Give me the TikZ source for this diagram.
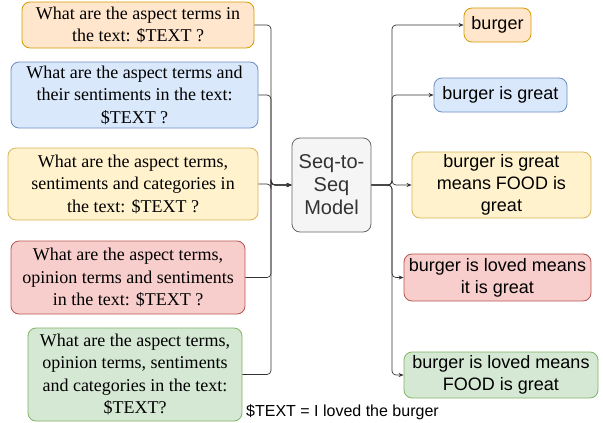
\documentclass[tikz,border=0pt]{standalone}
\usepackage{fontspec}
\setmainfont{Liberation Serif}
\setsansfont{Liberation Sans}
\usepackage{xcolor}
\usepackage{tikz}
\usetikzlibrary{arrows.meta}

\definecolor{orfill}{HTML}{FFE6CC}
\definecolor{orline}{HTML}{D79B00}
\definecolor{blfill}{HTML}{DAE8FC}
\definecolor{blline}{HTML}{6C8EBF}
\definecolor{yefill}{HTML}{FFF2CC}
\definecolor{yeline}{HTML}{D6B656}
\definecolor{refill}{HTML}{F8CECC}
\definecolor{reline}{HTML}{B85450}
\definecolor{grfill}{HTML}{D5E8D4}
\definecolor{grline}{HTML}{82B366}
\definecolor{mdfill}{HTML}{F5F5F5}
\definecolor{mdline}{HTML}{666666}
\definecolor{mdtext}{HTML}{333333}

\begin{document}
\begin{tikzpicture}[x=1pt,y=-1pt,
  box/.style={draw,rounded corners=8pt,line width=0.8pt,align=center,inner sep=0pt,
    font=\fontsize{18}{22.5}\selectfont},
  ans/.style={box,font=\sffamily\fontsize{18}{22}\selectfont},
  conn/.style={draw=black!80,line width=0.7pt,rounded corners=4pt,
    -{Stealth[length=5pt,width=4pt]}}]
\useasboundingbox (0,0) rectangle (603,423);

% Questions
\node[box,fill=orfill,draw=orline,minimum width=232pt,minimum height=46pt] (q1) at (138,25)
  {What are the aspect terms in\\the text: \$TEXT ?};
\node[box,fill=blfill,draw=blline,minimum width=247pt,minimum height=66pt] (q2) at (134.5,95)
  {What are the aspect terms and\\their sentiments in the text:\\\$TEXT ?};
\node[box,fill=yefill,draw=yeline,minimum width=250pt,minimum height=72pt] (q3) at (133,184)
  {What are the aspect terms,\\sentiments and categories in\\the text: \$TEXT ?};
\node[box,fill=refill,draw=reline,minimum width=234pt,minimum height=73pt] (q4) at (128,277.5)
  {What are the aspect terms,\\opinion terms and sentiments\\in the text: \$TEXT ?};
\node[box,fill=grfill,draw=grline,minimum width=214pt,minimum height=93pt] (q5) at (135,374.5)
  {What are the aspect terms,\\opinion terms, sentiments\\and categories in the text:\\\$TEXT?};

% Model
\node[box,fill=mdfill,draw=mdline,text=mdtext,minimum width=79pt,minimum height=94pt,
  font=\sffamily\fontsize{20}{23}\selectfont] (seq) at (331.5,185) {Seq-to-\\Seq\\Model};

% Answers
\node[ans,fill=orfill,draw=orline,minimum width=67pt,minimum height=34pt] (a1) at (497.5,25) {burger};
\node[ans,fill=blfill,draw=blline,minimum width=133pt,minimum height=34pt] (a2) at (500.5,95) {burger is great};
\node[ans,fill=yefill,draw=yeline,minimum width=179pt,minimum height=66pt] (a3) at (501.5,185)
  {burger is great\\means FOOD is\\great};
\node[ans,fill=refill,draw=reline,minimum width=187pt,minimum height=47pt] (a4) at (497.5,277.5)
  {burger is loved means\\it is great};
\node[ans,fill=grfill,draw=grline,minimum width=194pt,minimum height=46pt] (a5) at (501,375)
  {burger is loved means\\FOOD is great};

\node[anchor=west,inner sep=0pt,font=\sffamily\fontsize{16}{19}\selectfont] (note) at (246,412)
  {\$TEXT = I loved the burger};

% Connectors
\coordinate (jl) at (271,185);
\coordinate (jr) at (392,185);
\foreach \n in {1,...,5} {
    \draw[conn] (q\n.east) -| (jl) |- (seq.west);
    \draw[conn] (seq.east) -- (jr) |- (a\n.west);
}
\end{tikzpicture}
\end{document}
